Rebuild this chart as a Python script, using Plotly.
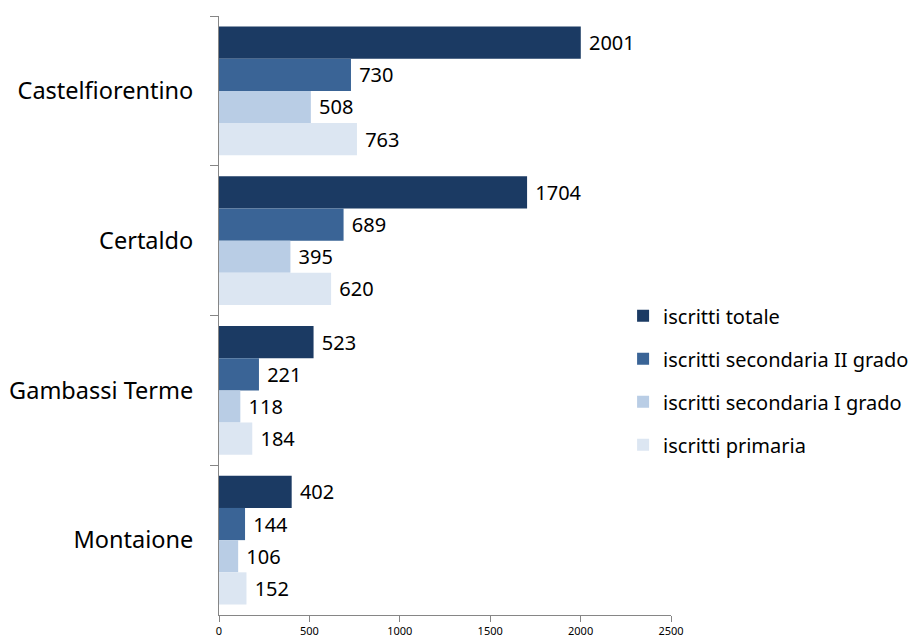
import plotly.graph_objects as go

comuni = ["Castelfiorentino", "Certaldo", "Gambassi Terme", "Montaione"]
serie = ["iscritti totale", "iscritti secondaria II grado",
         "iscritti secondaria I grado", "iscritti primaria"]
totale = [2001, 1704, 523, 402]
secondaria_2 = [730, 689, 221, 144]
secondaria_1 = [508, 395, 118, 106]
primaria = [763, 620, 184, 152]
colori = ["#1B3A63", "#3A6496", "#B9CDE5", "#DCE6F2"]

valori = [totale, secondaria_2, secondaria_1, primaria]
FONT = "Noto Sans, sans-serif"

fig = go.Figure()
for i, (nome, vals) in enumerate(zip(serie, valori)):
    fig.add_trace(go.Bar(
        y=comuni, x=vals, name=nome, orientation="h",
        marker=dict(color=colori[i], line=dict(width=0)),
        text=[" " + str(v) for v in vals], textposition="outside",
        textfont=dict(size=20, color="#000000"),
        cliponaxis=False, legendgroup=nome,
    ))

# la pagina ha 8px di margine nel body: si compensa qui
fig.update_layout(
    width=917, height=637,
    barmode="group", bargap=0.14, bargroupgap=0,
    plot_bgcolor="white", paper_bgcolor="white",
    font=dict(family=FONT, color="#000000"),
    margin=dict(l=211, r=254, t=8, b=30, autoexpand=False),
    legend=dict(x=0.894, xanchor="left", y=0.392, yanchor="middle",
                font=dict(size=20), traceorder="grouped",
                tracegroupgap=14, itemwidth=30, bgcolor="rgba(0,0,0,0)"),
)
fig.update_xaxes(range=[0, 2500], dtick=500, showgrid=False, zeroline=False,
                 showline=True, linecolor="#868686", linewidth=1,
                 ticks="outside", ticklen=6, tickcolor="#868686",
                 tickfont=dict(size=11, family=FONT), automargin=False)
fig.update_yaxes(autorange="reversed", showgrid=False, showline=True,
                 linecolor="#868686", linewidth=1, ticks="outside",
                 ticklen=8, tickcolor="#868686", tickson="boundaries",
                 ticklabelstandoff=20, tickfont=dict(size=23.5, family=FONT),
                 automargin=False)

fig.write_html("out.html")
